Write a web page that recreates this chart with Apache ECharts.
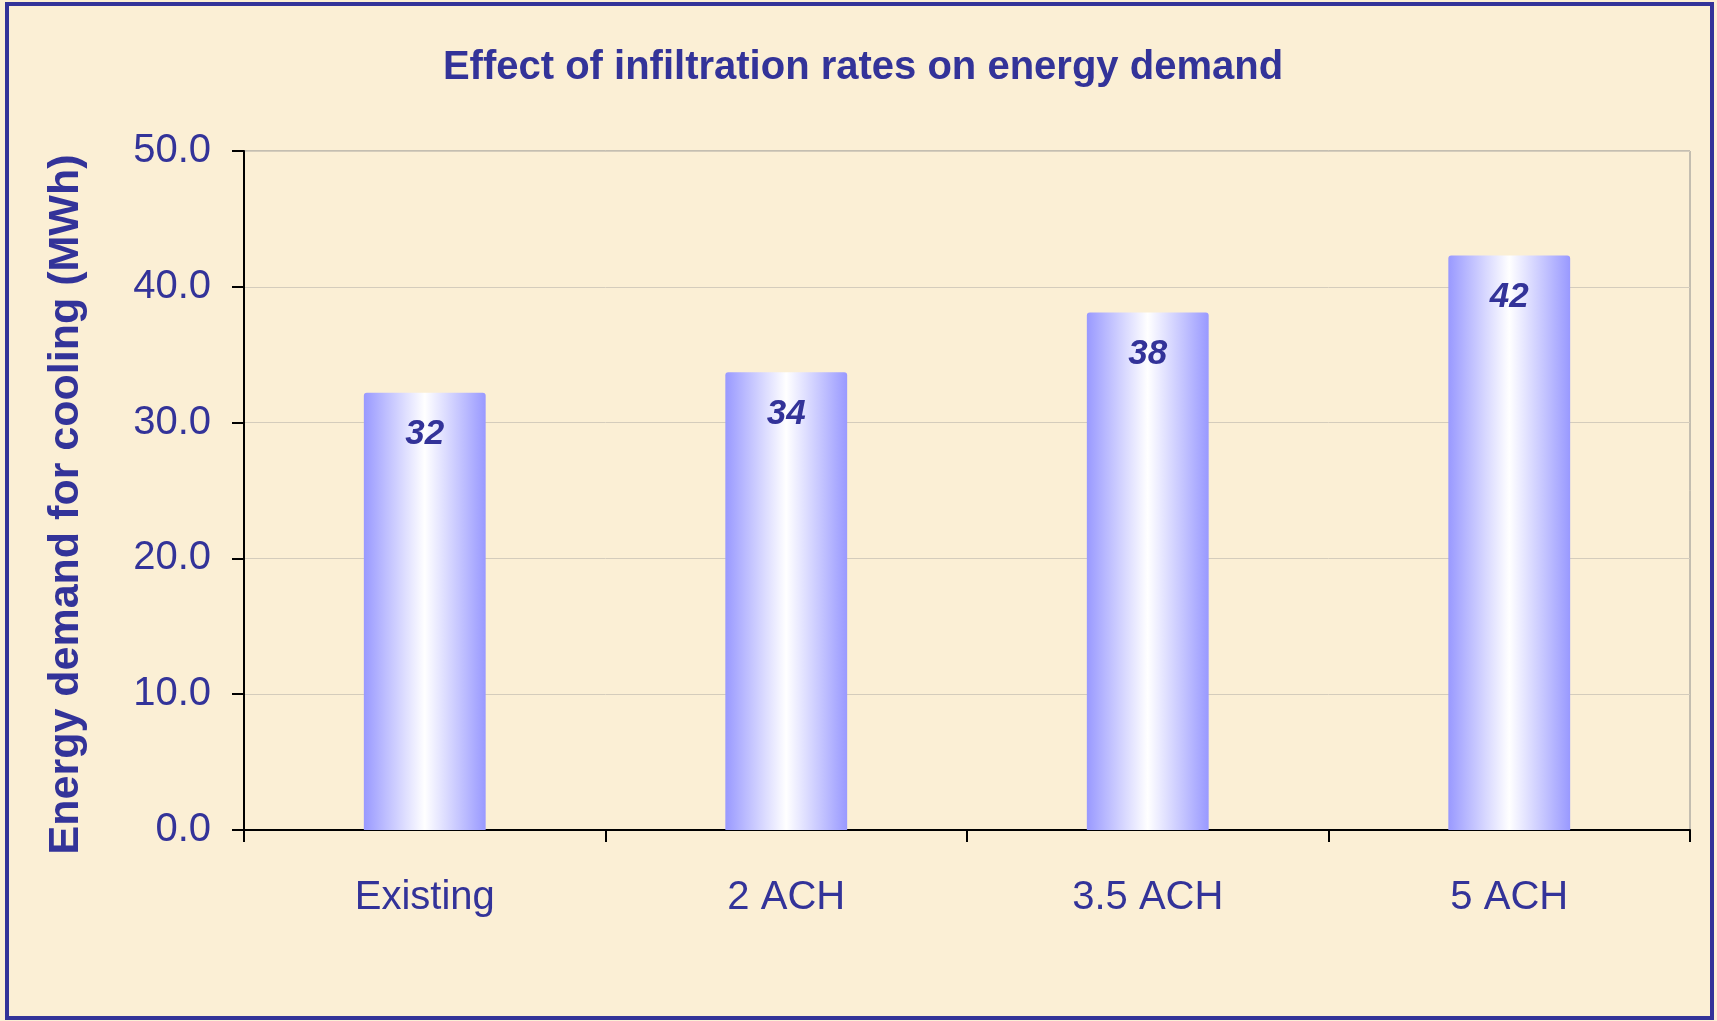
<!DOCTYPE html>
<html>
<head>
<meta charset="utf-8">
<script src="https://cdn.jsdelivr.net/npm/echarts@6/dist/echarts.min.js"></script>
<style>
  html, body { margin: 0; padding: 0; background: #fbefd5; }
  #main { width: 1717px; height: 1021px; }
</style>
</head>
<body>
<div id="main"></div>
<script>
const categories = ['Existing', '2 ACH', '3.5 ACH', '5 ACH'];
const demand = [32.2, 33.7, 38.1, 42.3];
const labels = ['32', '34', '38', '42'];

const navy = '#333399';
const chart = echarts.init(document.getElementById('main'));

const barColor = new echarts.graphic.LinearGradient(0, 0, 1, 0, [
  { offset: 0, color: '#9999ff' },
  { offset: 0.5, color: '#ffffff' },
  { offset: 1, color: '#9999ff' }
]);

chart.setOption({
  backgroundColor: '#fbefd5',
  animation: false,
  title: {
    text: 'Effect of infiltration rates on energy demand',
    left: 858,
    top: 43,
    textAlign: 'center',
    textStyle: { color: navy, fontFamily: 'Liberation Sans, Arial', fontWeight: 'bold', fontSize: 40 }
  },
  grid: { left: 244, right: 27, top: 151, bottom: 191, show: true, borderColor: '#8c8c8c', borderWidth: 1, backgroundColor: 'transparent' },
  xAxis: {
    type: 'category',
    data: categories,
    axisLine: { lineStyle: { color: '#000', width: 2 } },
    axisTick: { show: true, length: 12, lineStyle: { color: '#000', width: 2 } },
    axisLabel: { color: navy, fontFamily: 'Liberation Sans, Arial', fontSize: 40, margin: 48 }
  },
  yAxis: {
    type: 'value',
    min: 0, max: 50, interval: 10,
    name: 'Energy demand for cooling (MWh)',
    nameLocation: 'middle',
    nameGap: 156,
    nameTextStyle: { color: navy, fontFamily: 'Liberation Sans, Arial', fontWeight: 'bold', fontSize: 43, padding: [0, 28, 0, 0] },
    axisLine: { show: true, lineStyle: { color: '#000', width: 2 } },
    axisTick: { show: true, length: 12, lineStyle: { color: '#000', width: 2 } },
    axisLabel: { color: navy, fontFamily: 'Liberation Sans, Arial', fontSize: 40, margin: 33, formatter: v => v.toFixed(1) },
    splitLine: { lineStyle: { color: '#d4ccbc', width: 1 } }
  },
  series: [{
    type: 'bar',
    data: demand,
    barWidth: '33.7%',
    itemStyle: { color: barColor, borderRadius: [3, 3, 0, 0] },
    label: {
      show: true,
      position: 'insideTop',
      distance: 24,
      formatter: p => labels[p.dataIndex],
      color: navy,
      fontFamily: 'Liberation Sans, Arial',
      fontWeight: 'bold',
      fontStyle: 'italic',
      fontSize: 35
    }
  }],
  graphic: [{
    type: 'rect',
    shape: { x: 7, y: 4, width: 1705, height: 1014 },
    style: { fill: 'none', stroke: navy, lineWidth: 4 },
    silent: true
  }]
});
</script>
</body>
</html>
